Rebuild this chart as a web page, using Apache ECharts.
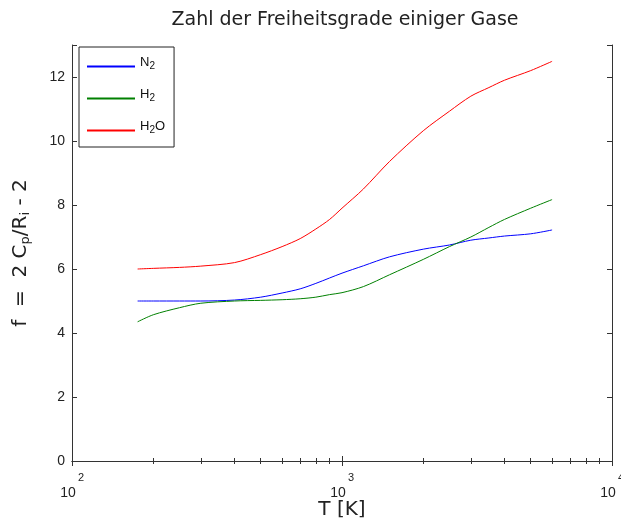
<!DOCTYPE html>
<html>
<head>
<meta charset="utf-8">
<script src="https://cdn.jsdelivr.net/npm/echarts@6/dist/echarts.min.js"></script>
<style>
  html, body { margin: 0; padding: 0; background: #fff; }
  #main { width: 621px; height: 522px; }
</style>
</head>
<body>
<div id="main"></div>
<script>
// temperatures in K
const temps = [175, 200, 250, 300, 400, 500, 600, 700, 800, 900,
  1000, 1200, 1500, 2000, 2500, 3000, 3500, 4000, 5000, 6000];
const fN2 = [5.0, 5.0, 5.0, 5.0, 5.03, 5.12, 5.25, 5.38, 5.55, 5.72,
  5.87, 6.1, 6.38, 6.62, 6.75, 6.9, 6.97, 7.03, 7.1, 7.22];
const fH2 = [4.35, 4.57, 4.79, 4.93, 5.0, 5.02, 5.04, 5.07, 5.12, 5.2,
  5.26, 5.45, 5.82, 6.3, 6.7, 7.0, 7.3, 7.55, 7.9, 8.17];
const fH2O = [6.0, 6.02, 6.05, 6.09, 6.2, 6.45, 6.7, 6.95, 7.25, 7.55,
  7.9, 8.5, 9.36, 10.32, 10.93, 11.4, 11.67, 11.9, 12.2, 12.49];
const yTicks = [0, 2, 4, 6, 8, 10, 12];

const font = 'Liberation Sans, Arial, sans-serif';
const wideFont = 'DejaVu Sans, sans-serif';
const axisCol = '#333';

function pairs(ys) {
  return temps.map((t, i) => [t, ys[i]]);
}

let myChart = echarts.init(document.getElementById('main'));

let legendRich = {
  a: { fontSize: 13, lineHeight: 14, verticalAlign: 'top', color: '#111', fontFamily: font },
  s: { fontSize: 10, lineHeight: 11, padding: [7, 0, 0, 0], color: '#111', fontFamily: font }
};

myChart.setOption({
  animation: false,
  title: {
    text: 'Zahl der Freiheitsgrade einiger Gase',
    left: 340,
    top: 6,
    textAlign: 'center',
    textStyle: { fontSize: 19, fontWeight: 'normal', color: '#222', fontFamily: wideFont }
  },
  legend: {
    left: 79,
    top: 47,
    orient: 'vertical',
    borderColor: '#222',
    borderWidth: 1,
    padding: [7, 9, 12, 8],
    itemGap: 15,
    itemWidth: 48,
    itemHeight: 2,
    icon: 'rect',
    formatter: function (name) {
      if (name === 'N2') return '{a|N}{s|2}';
      if (name === 'H2') return '{a|H}{s|2}';
      return '{a|H}{s|2}{a|O}';
    },
    textStyle: { padding: [0, 0, 8, 0], rich: legendRich },
    data: ['N2', 'H2', 'H2O']
  },
  grid: { left: 72, right: 9, top: 45, bottom: 61, outerBoundsMode: 'none' },
  xAxis: [{
    type: 'log',
    min: 100,
    max: 10000,
    logBase: 10,
    name: 'T [K]',
    nameLocation: 'middle',
    nameGap: 39,
    nameMoveOverlap: false,
    nameTextStyle: { fontSize: 20, color: '#222', fontFamily: wideFont },
    axisLine: { show: true, lineStyle: { color: axisCol } },
    axisTick: { inside: true, length: 5, lineStyle: { color: axisCol } },
    minorTick: { show: true, splitNumber: 9, length: 3, lineStyle: { color: axisCol } },
    splitLine: { show: false },
    minorSplitLine: { show: false },
    axisLabel: {
      margin: 10,
      formatter: function (v) {
        return '{e|' + Math.round(Math.log10(v)) + '}\n{b|10}';
      },
      rich: {
        e: { fontSize: 11, lineHeight: 14, padding: [0, 0, 0, 18], color: '#222', fontFamily: font },
        b: { fontSize: 14, lineHeight: 16, padding: [0, 8, 0, 0], color: '#222', fontFamily: font }
      }
    }
  }, {
    type: 'log',
    min: 100,
    max: 10000,
    position: 'top',
    axisLine: { show: true, lineStyle: { color: axisCol } },
    axisTick: { inside: true, length: 5, lineStyle: { color: axisCol } },
    minorTick: { show: true, splitNumber: 9, length: 3, lineStyle: { color: axisCol } },
    splitLine: { show: false },
    axisLabel: { show: false }
  }],
  yAxis: [{
    type: 'value',
    min: 0,
    max: 13,
    interval: 2,
    name: '{a|f  =  2 C}{s|p}{a|/R}{s|i}{a| - 2}',
    nameLocation: 'middle',
    nameGap: 40,
    nameTextStyle: {
      rich: {
        a: { fontSize: 20, lineHeight: 22, color: '#222', fontFamily: wideFont },
        s: { fontSize: 13, lineHeight: 12, padding: [10, 0, 0, 0], color: '#222', fontFamily: wideFont }
      }
    },
    axisLine: { show: true, lineStyle: { color: axisCol } },
    axisTick: { inside: true, length: 5, lineStyle: { color: axisCol } },
    splitLine: { show: false },
    axisLabel: {
      margin: 7,
      fontSize: 14,
      color: '#222',
      fontFamily: font,
      formatter: function (v) {
        return yTicks.indexOf(v) >= 0 ? String(v) : '';
      }
    }
  }, {
    type: 'value',
    min: 0,
    max: 13,
    interval: 2,
    position: 'right',
    axisLine: { show: true, lineStyle: { color: axisCol } },
    axisTick: { inside: true, length: 5, lineStyle: { color: axisCol } },
    splitLine: { show: false },
    axisLabel: { show: false }
  }],
  series: [{
    name: 'N2',
    type: 'line',
    symbol: 'none',
    smooth: 0.3,
    color: '#0000ff',
    lineStyle: { width: 1 },
    data: pairs(fN2)
  }, {
    name: 'H2',
    type: 'line',
    symbol: 'none',
    smooth: 0.3,
    color: '#008000',
    lineStyle: { width: 1 },
    data: pairs(fH2)
  }, {
    name: 'H2O',
    type: 'line',
    symbol: 'none',
    smooth: 0.3,
    color: '#ff0000',
    lineStyle: { width: 1 },
    data: pairs(fH2O)
  }]
});
</script>
</body>
</html>
